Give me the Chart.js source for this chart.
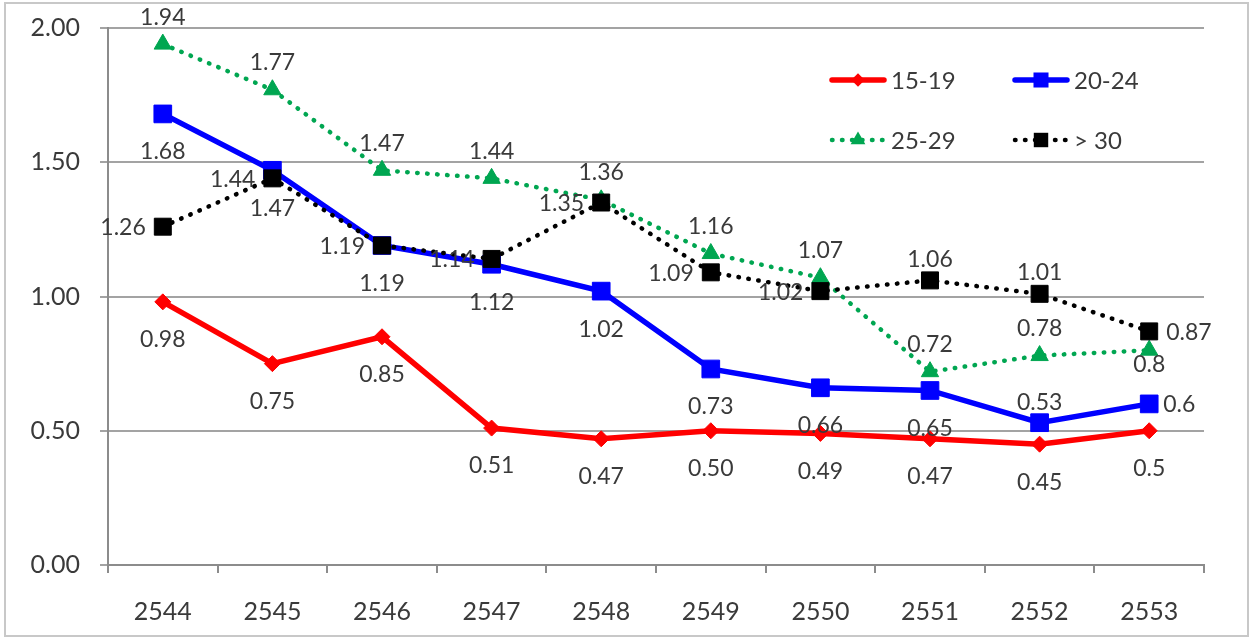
<!DOCTYPE html>
<html>
<head>
<meta charset="utf-8">
<script src="https://cdn.jsdelivr.net/npm/chart.js@4.4.1/dist/chart.umd.min.js"></script>
<style>
  html, body { margin: 0; padding: 0; background: #fff; }
  #wrap { width: 1254px; height: 640px; }
</style>
</head>
<body>
<div id="wrap"><canvas id="c" width="1254" height="640"></canvas></div>
<script>
// Years (Buddhist era) on the category axis
const years = ['2544', '2545', '2546', '2547', '2548', '2549', '2550', '2551', '2552', '2553'];

// Rates per age group, kept as the printed label text
const rate15to19 = ['0.98', '0.75', '0.85', '0.51', '0.47', '0.50', '0.49', '0.47', '0.45', '0.5'];
const rate20to24 = ['1.68', '1.47', '1.19', '1.12', '1.02', '0.73', '0.66', '0.65', '0.53', '0.6'];
const rate25to29 = ['1.94', '1.77', '1.47', '1.44', '1.36', '1.16', '1.07', '0.72', '0.78', '0.8'];
const rateOver30 = ['1.26', '1.44', '1.19', '1.14', '1.35', '1.09', '1.02', '1.06', '1.01', '0.87'];

const seriesNames = ['15-19', '20-24', '25-29', '> 30'];

// Value axis ticks
const yTicks = [0, 0.5, 1, 1.5, 2];

// Where each value label sits around its point: a = above, b = below, l = left, r = right
const place15to19 = ['b', 'b', 'b', 'b', 'b', 'b', 'b', 'b', 'b', 'b'];
const place20to24 = ['b', 'b', 'b', 'b', 'b', 'b', 'b', 'b', 'a', 'r'];
const place25to29 = ['a', 'a', 'a', 'a', 'a', 'a', 'a', 'a', 'a', 'b'];
const placeOver30 = ['l', 'l', 'l', 'l', 'l', 'l', 'l', 'a', 'a', 'r'];

const FONT = 'Lato, "Open Sans", sans-serif';
const TEXT = '#3a3a3a';
const AXIS = '#8c8c8c';
const GRID = '#a3a3a3';

const dotted = [0.5, 9.5];

const datasets = [
  {
    label: seriesNames[0], data: rate15to19.map(Number), places: place15to19,
    gap: { a: 22, b: 37, s: 16 },
    borderColor: '#ff0000', backgroundColor: '#ff0000', borderWidth: 5.5,
    pointStyle: 'rectRot', pointRadius: 8, pointBorderWidth: 1,
    pointBackgroundColor: '#ff0000', pointBorderColor: '#ff0000', order: 3
  },
  {
    label: seriesNames[1], data: rate20to24.map(Number), places: place20to24,
    gap: { a: 21, b: 37, s: 14 },
    borderColor: '#0000ff', backgroundColor: '#0000ff', borderWidth: 5.5,
    pointStyle: 'rect', pointRadius: 12.5, pointBorderWidth: 1,
    pointBackgroundColor: '#0000ff', pointBorderColor: '#0000ff', order: 2
  },
  {
    label: seriesNames[2], data: rate25to29.map(Number), places: place25to29,
    gap: { a: 28, b: 13, s: 16 },
    borderColor: '#00a651', backgroundColor: '#00a651', borderWidth: 4.5,
    borderDash: dotted, borderCapStyle: 'round',
    pointStyle: 'triangle', pointRadius: 10, pointBorderWidth: 1,
    pointBackgroundColor: '#00a651', pointBorderColor: '#00a651', order: 1
  },
  {
    label: seriesNames[3], data: rateOver30.map(Number), places: placeOver30,
    gap: { a: 22, b: 30, s: 17 },
    borderColor: '#000000', backgroundColor: '#000000', borderWidth: 4.5,
    borderDash: dotted, borderCapStyle: 'round',
    pointStyle: 'rect', pointRadius: 12, pointBorderWidth: 1,
    pointBackgroundColor: '#000000', pointBorderColor: '#000000', order: 0
  }
];
const labelText = [rate15to19, rate20to24, rate25to29, rateOver30];

// White background and light frame around the whole chart
const framePlugin = {
  id: 'frame',
  beforeDraw(chart) {
    const ctx = chart.ctx;
    ctx.save();
    ctx.fillStyle = '#ffffff';
    ctx.fillRect(0, 0, chart.width, chart.height);
    ctx.strokeStyle = '#c8c8c8';
    ctx.lineWidth = 2;
    ctx.strokeRect(5, 3, chart.width - 11, chart.height - 7);
    ctx.restore();
  }
};

// Value labels next to every point
const valueLabelPlugin = {
  id: 'valueLabels',
  afterDatasetsDraw(chart) {
    const ctx = chart.ctx;
    ctx.save();
    ctx.font = '23px ' + FONT;
    ctx.fillStyle = TEXT;
    ctx.textBaseline = 'middle';
    chart.data.datasets.forEach((ds, i) => {
      const meta = chart.getDatasetMeta(i);
      meta.data.forEach((pt, j) => {
        const p = ds.places[j];
        let x = pt.x, y = pt.y + 1;
        ctx.textAlign = 'center';
        if (p === 'a') y -= ds.gap.a;
        else if (p === 'b') y += ds.gap.b;
        else if (p === 'l') { x -= ds.gap.s; ctx.textAlign = 'right'; }
        else if (p === 'r') { x += ds.gap.s; ctx.textAlign = 'left'; }
        ctx.fillText(labelText[i][j], x, y);
      });
    });
    ctx.restore();
  }
};

function drawMarker(ctx, ds, x, y, scale) {
  const r = ds.pointRadius * scale;
  ctx.fillStyle = ds.pointBackgroundColor;
  ctx.beginPath();
  if (ds.pointStyle === 'rect') {
    const s = r * Math.SQRT1_2;
    ctx.rect(x - s, y - s, 2 * s, 2 * s);
  } else if (ds.pointStyle === 'rectRot') {
    ctx.moveTo(x, y - r); ctx.lineTo(x + r, y); ctx.lineTo(x, y + r); ctx.lineTo(x - r, y);
    ctx.closePath();
  } else if (ds.pointStyle === 'triangle') {
    ctx.moveTo(x, y - r);
    ctx.lineTo(x + r * Math.sin(2 * Math.PI / 3), y - r * Math.cos(2 * Math.PI / 3));
    ctx.lineTo(x + r * Math.sin(4 * Math.PI / 3), y - r * Math.cos(4 * Math.PI / 3));
    ctx.closePath();
  }
  ctx.fill();
}

// Two-by-two legend inside the plot, top right
const legendPlugin = {
  id: 'cornerLegend',
  afterDatasetsDraw(chart) {
    const ctx = chart.ctx;
    const area = chart.chartArea;
    const cols = [area.right - 372, area.right - 189];
    const rows = [area.top + 52, area.top + 112];
    ctx.save();
    chart.data.datasets.forEach((ds, i) => {
      const x0 = cols[i % 2], y0 = rows[Math.floor(i / 2)];
      const len = 52;
      ctx.strokeStyle = ds.borderColor;
      ctx.lineWidth = ds.borderWidth;
      ctx.lineCap = ds.borderCapStyle || 'round';
      ctx.setLineDash(ds.borderDash || []);
      ctx.beginPath();
      ctx.moveTo(x0, y0);
      ctx.lineTo(x0 + len, y0);
      ctx.stroke();
      ctx.setLineDash([]);
      drawMarker(ctx, ds, x0 + len / 2, y0, 0.85);
      ctx.fillStyle = TEXT;
      ctx.font = '24px ' + FONT;
      ctx.textAlign = 'left';
      ctx.textBaseline = 'middle';
      ctx.fillText(ds.label, x0 + len + 7, y0 + 1);
    });
    ctx.restore();
  }
};

new Chart(document.getElementById('c'), {
  type: 'line',
  data: { labels: years, datasets: datasets },
  options: {
    responsive: false,
    animation: false,
    devicePixelRatio: 1,
    layout: { autoPadding: false, padding: { left: 0, top: 28, right: 50, bottom: 0 } },
    plugins: { legend: { display: false }, tooltip: { enabled: false } },
    elements: { line: { tension: 0 } },
    scales: {
      x: {
        offset: true,
        grid: { offset: true, drawOnChartArea: false, drawTicks: true, tickLength: 8, color: AXIS, lineWidth: 2 },
        border: { display: true, color: AXIS, width: 2 },
        ticks: { font: { family: FONT, size: 25 }, color: TEXT, padding: 24, maxRotation: 0 },
        afterFit(scale) { scale.height = 75; }
      },
      y: {
        min: yTicks[0],
        max: yTicks[yTicks.length - 1],
        afterBuildTicks(scale) { scale.ticks = yTicks.map(v => ({ value: v })); },
        grid: { color: GRID, lineWidth: 2, drawTicks: true, tickLength: 8 },
        border: { display: true, color: AXIS, width: 2 },
        ticks: {
          font: { family: FONT, size: 25 }, color: TEXT, padding: 20,
          callback: v => Number(v).toFixed(2)
        },
        afterFit(scale) {
          scale.width = 108;
          // the top and bottom tick labels may overhang the plot edges
          scale.paddingTop = 0;
          scale.paddingBottom = 0;
        }
      }
    }
  },
  plugins: [framePlugin, valueLabelPlugin, legendPlugin]
});
</script>
</body>
</html>
